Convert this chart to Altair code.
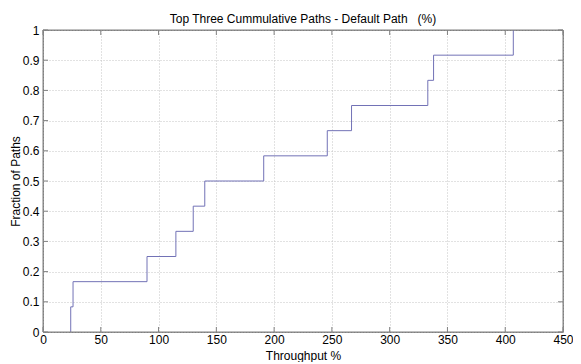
import altair as alt
import pandas as pd

throughput = [24, 24, 26, 90, 115, 130, 140, 191, 246, 267, 333, 338, 407]
fraction = [0.0, 0.0833, 0.1667, 0.25, 0.3333, 0.4167, 0.5, 0.5833, 0.6667, 0.75, 0.8333, 0.9167, 1.0]

x_ticks = [0, 50, 100, 150, 200, 250, 300, 350, 400, 450]
y_ticks = [0, 0.1, 0.2, 0.3, 0.4, 0.5, 0.6, 0.7, 0.8, 0.9, 1.0]

W, H = 520, 302
FRAME = "#808080"
FONT = "Liberation Sans"

df = pd.DataFrame({"t": throughput, "f": fraction})
xt = pd.DataFrame({"t": x_ticks})
yt = pd.DataFrame({"f": y_ticks})

xs = alt.Scale(domain=[0, 450], nice=False, zero=False)
ys = alt.Scale(domain=[0, 1], nice=False, zero=False)

x_axis = alt.Axis(values=x_ticks, title="Throughput %", labelPadding=2,
                  titleY=23, titleBaseline="middle")
y_axis = alt.Axis(values=y_ticks, format="~g", title="Fraction of Paths", labelPadding=4,
                  titleX=-28, titleY=H / 2, titleAngle=-90, titleBaseline="middle")

X = alt.X("t:Q", scale=xs, axis=x_axis)
Y = alt.Y("f:Q", scale=ys, axis=y_axis)

line = alt.Chart(df).mark_line(
    interpolate="step-after", color="#7272b6", strokeWidth=1
).encode(x=X, y=Y)

frame = alt.Chart(pd.DataFrame({"k": [0]})).mark_rect(
    filled=False, stroke=FRAME, strokeWidth=1
).encode(x=alt.value(0), x2=alt.value(W), y=alt.value(0), y2=alt.value(H))

bottom_ticks = alt.Chart(xt).mark_rule(color=FRAME).encode(
    x=X, y=alt.value(H), y2=alt.value(H - 5))
top_ticks = alt.Chart(xt).mark_rule(color=FRAME).encode(
    x=X, y=alt.value(0), y2=alt.value(5))
left_ticks = alt.Chart(yt).mark_rule(color=FRAME).encode(
    y=Y, x=alt.value(0), x2=alt.value(5))
right_ticks = alt.Chart(yt).mark_rule(color=FRAME).encode(
    y=Y, x=alt.value(W - 5), x2=alt.value(W))

chart = alt.layer(line, frame, bottom_ticks, top_ticks, left_ticks, right_ticks).properties(
    width=W,
    height=H,
    background="white",
    title=alt.TitleParams(
        "Top Three Cummulative Paths - Default Path\u00a0\u00a0\u00a0(%)",
        font=FONT, fontSize=12, fontWeight="normal", color="#000000",
        anchor="middle", offset=-2),
    autosize=alt.AutoSizeParams(type="none"),
    padding={"left": 35, "top": 22, "right": 10, "bottom": 30},
).configure_view(
    stroke=FRAME, strokeWidth=1
).configure_axis(
    domain=False, ticks=False, grid=True,
    gridColor="#c4c4c4", gridDash=[1, 2], gridWidth=1,
    labelFont=FONT, labelFontSize=12, labelColor="#000000", labelFlush=False,
    titleFont=FONT, titleFontSize=12, titleFontWeight="normal", titleColor="#000000",
)

chart.save("out.html", embed_options={"renderer": "svg", "actions": False})
